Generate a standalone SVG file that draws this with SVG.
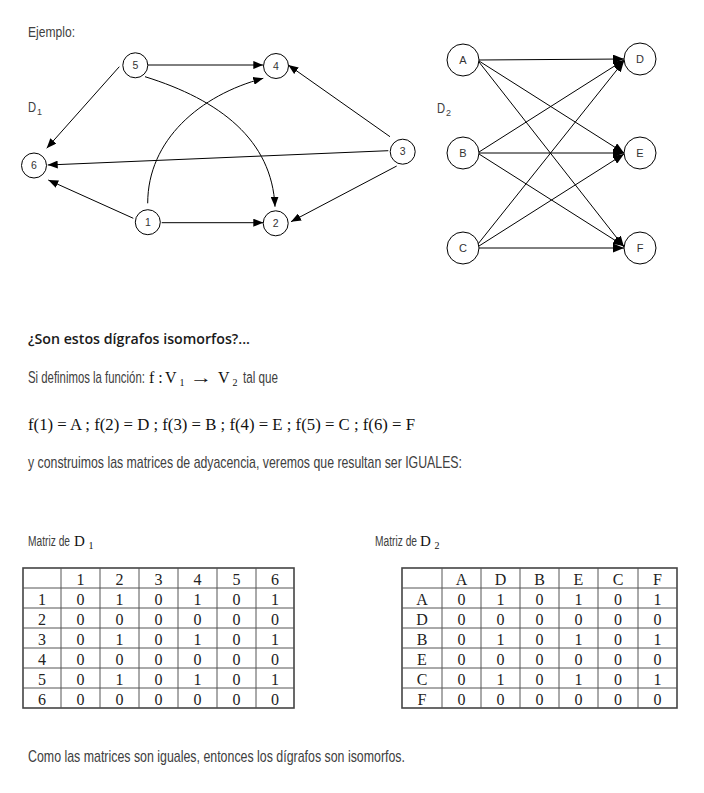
<svg xmlns="http://www.w3.org/2000/svg" width="704" height="793" viewBox="0 0 704 793">
<style>
.t{font-family:"Liberation Sans",Arial,sans-serif;font-size:17px;fill:#404040}
.s{font-family:"Liberation Serif","Times New Roman",serif;fill:#111}
.h{font-family:"Open Sans","Noto Sans",sans-serif;font-weight:600;font-size:15px;fill:#1a1a1a}
.n circle{fill:#fff;stroke:#000;stroke-width:1}
.n text{font-family:"Liberation Sans",Arial,sans-serif;fill:#333;text-anchor:middle}
.e{fill:none;stroke:#000;stroke-width:1}
.a{marker-end:url(#ar)}
.b{marker-end:url(#ar2)}
.tb text{font-family:"Liberation Serif","Times New Roman",serif;font-size:16px;fill:#222;text-anchor:middle}
.tb line{stroke:#555;stroke-width:1}
.tb rect{fill:none;stroke:#444;stroke-width:1.6}
</style>
<defs>
<marker id="ar" markerUnits="userSpaceOnUse" markerWidth="10" markerHeight="8" refX="10" refY="4" orient="auto"><path d="M0,0 L10,4 L0,8 z" fill="#000"/></marker>
<marker id="ar2" markerUnits="userSpaceOnUse" markerWidth="11" markerHeight="9" refX="11" refY="4.5" orient="auto"><path d="M0,0 L11,4.5 L0,9 z" fill="#000"/></marker>
</defs>
<rect width="704" height="793" fill="#fff"/>

<text class="t" x="28" y="37" style="font-size:14.5px" textLength="47" lengthAdjust="spacingAndGlyphs">Ejemplo:</text>
<text class="t" transform="translate(28,112) scale(0.8,1)" style="font-size:14px">D</text><text class="t" x="37" y="115" style="font-size:9px">1</text>
<text class="t" transform="translate(437,113) scale(0.8,1)" style="font-size:14px">D</text><text class="t" x="446" y="116" style="font-size:9px">2</text>

<g id="edges">
<path class="e a" d="M147.3,65 L263.3,65"/>
<path class="e a" d="M119.3,66.7 L46.7,148.3"/>
<path class="e a" d="M145,76.7 C220,100 272,140 275,206.7"/>
<path class="e a" d="M147.7,203.3 C147.7,140 200,95 263.3,78.3"/>
<path class="e a" d="M133.3,218.3 L48.3,180"/>
<path class="e a" d="M161.7,222.7 L263.3,222.7"/>
<path class="e a" d="M390,136.7 L288.3,65"/>
<path class="e a" d="M388.3,150.7 L47.7,165"/>
<path class="e a" d="M396.7,166 L291,221.7"/>

<path class="e b" d="M479,60 L624,59"/>
<path class="e b" d="M479,61 L624,153"/>
<path class="e b" d="M479,62 L624,247"/>
<path class="e b" d="M479,152 L624,60"/>
<path class="e b" d="M479,153 L624,153"/>
<path class="e b" d="M479,154 L624,246"/>
<path class="e b" d="M478,244 L624,61"/>
<path class="e b" d="M479,246 L624,154"/>
<path class="e b" d="M479,248 L624,248"/>
</g>

<g id="n5" class="n"><circle cx="135.3" cy="65.3" r="12.5"/><text x="135.3" y="69" font-size="10.5">5</text></g>
<g id="n4" class="n"><circle cx="276" cy="66" r="12.5"/><text x="276" y="69.7" font-size="10.5">4</text></g>
<g id="n6" class="n"><circle cx="34" cy="165.5" r="12.5"/><text x="34" y="169.2" font-size="10.5">6</text></g>
<g id="n3" class="n"><circle cx="402.7" cy="151.7" r="12.5"/><text x="402.7" y="155.4" font-size="10.5">3</text></g>
<g id="n1" class="n"><circle cx="147.8" cy="222.2" r="12.5"/><text x="147.8" y="225.9" font-size="10.5">1</text></g>
<g id="n2" class="n"><circle cx="275.7" cy="223.3" r="12.5"/><text x="275.7" y="227" font-size="10.5">2</text></g>

<g id="nA" class="n"><circle cx="463" cy="60" r="16"/><text x="463" y="64" font-size="11">A</text></g>
<g id="nB" class="n"><circle cx="463" cy="153" r="16"/><text x="463" y="157" font-size="11">B</text></g>
<g id="nC" class="n"><circle cx="463" cy="248" r="16"/><text x="463" y="252" font-size="11">C</text></g>
<g id="nD" class="n"><circle cx="640" cy="59" r="16"/><text x="640" y="63" font-size="11">D</text></g>
<g id="nE" class="n"><circle cx="640" cy="153" r="16"/><text x="640" y="157" font-size="11">E</text></g>
<g id="nF" class="n"><circle cx="640" cy="248" r="16"/><text x="640" y="252" font-size="11">F</text></g>

<text class="h" x="28" y="344" textLength="222" lengthAdjust="spacingAndGlyphs">¿Son estos dígrafos isomorfos?...</text>

<text class="t" transform="translate(28,383) scale(0.669,1)">Si definimos la función:</text>
<text class="s" x="149" y="383" font-size="16">f :</text>
<text class="s" x="165" y="383" font-size="16">V</text>
<text class="s" x="179.5" y="386" font-size="10">1</text>
<text class="s" transform="translate(190,383) scale(1.4,1)" font-size="16">→</text>
<text class="s" x="218" y="383" font-size="16">V</text>
<text class="s" x="232.5" y="386" font-size="10">2</text>
<text class="t" transform="translate(243,383) scale(0.686,1)">tal que</text>

<text class="s" x="28" y="430" font-size="16" textLength="387" lengthAdjust="spacingAndGlyphs">f(1) = A ; f(2) = D ; f(3) = B ; f(4) = E ; f(5) = C ; f(6) = F</text>

<text class="t" x="28" y="468" textLength="434" lengthAdjust="spacingAndGlyphs">y construimos las matrices de adyacencia, veremos que resultan ser IGUALES:</text>

<text class="t" transform="translate(28,546) scale(0.681,1)" style="font-size:15px">Matriz de</text>
<text class="s" x="74" y="546" font-size="15">D</text><text class="s" x="88.5" y="549" font-size="10">1</text>
<text class="t" transform="translate(375,546) scale(0.681,1)" style="font-size:15px">Matriz de</text>
<text class="s" x="420" y="546" font-size="15">D</text><text class="s" x="434.5" y="549" font-size="10">2</text>

<g id="table1" class="tb">
<rect x="23" y="568" width="271" height="140"/>
<line x1="61" y1="568" x2="61" y2="708"/><line x1="100" y1="568" x2="100" y2="708"/><line x1="139" y1="568" x2="139" y2="708"/><line x1="178" y1="568" x2="178" y2="708"/><line x1="217" y1="568" x2="217" y2="708"/><line x1="256" y1="568" x2="256" y2="708"/>
<line x1="23" y1="588" x2="294" y2="588"/><line x1="23" y1="608" x2="294" y2="608"/><line x1="23" y1="628" x2="294" y2="628"/><line x1="23" y1="648" x2="294" y2="648"/><line x1="23" y1="668" x2="294" y2="668"/><line x1="23" y1="688" x2="294" y2="688"/>
<text x="80.5" y="584.5">1</text><text x="119.5" y="584.5">2</text><text x="158.5" y="584.5">3</text><text x="197.5" y="584.5">4</text><text x="236.5" y="584.5">5</text><text x="275" y="584.5">6</text>
<text x="42" y="604.5">1</text><text x="80.5" y="604.5">0</text><text x="119.5" y="604.5">1</text><text x="158.5" y="604.5">0</text><text x="197.5" y="604.5">1</text><text x="236.5" y="604.5">0</text><text x="275" y="604.5">1</text>
<text x="42" y="624.5">2</text><text x="80.5" y="624.5">0</text><text x="119.5" y="624.5">0</text><text x="158.5" y="624.5">0</text><text x="197.5" y="624.5">0</text><text x="236.5" y="624.5">0</text><text x="275" y="624.5">0</text>
<text x="42" y="644.5">3</text><text x="80.5" y="644.5">0</text><text x="119.5" y="644.5">1</text><text x="158.5" y="644.5">0</text><text x="197.5" y="644.5">1</text><text x="236.5" y="644.5">0</text><text x="275" y="644.5">1</text>
<text x="42" y="664.5">4</text><text x="80.5" y="664.5">0</text><text x="119.5" y="664.5">0</text><text x="158.5" y="664.5">0</text><text x="197.5" y="664.5">0</text><text x="236.5" y="664.5">0</text><text x="275" y="664.5">0</text>
<text x="42" y="684.5">5</text><text x="80.5" y="684.5">0</text><text x="119.5" y="684.5">1</text><text x="158.5" y="684.5">0</text><text x="197.5" y="684.5">1</text><text x="236.5" y="684.5">0</text><text x="275" y="684.5">1</text>
<text x="42" y="704.5">6</text><text x="80.5" y="704.5">0</text><text x="119.5" y="704.5">0</text><text x="158.5" y="704.5">0</text><text x="197.5" y="704.5">0</text><text x="236.5" y="704.5">0</text><text x="275" y="704.5">0</text>
</g>

<g id="table2" class="tb">
<rect x="402" y="568" width="275" height="140"/>
<line x1="442" y1="568" x2="442" y2="708"/><line x1="481" y1="568" x2="481" y2="708"/><line x1="520" y1="568" x2="520" y2="708"/><line x1="559" y1="568" x2="559" y2="708"/><line x1="598" y1="568" x2="598" y2="708"/><line x1="638" y1="568" x2="638" y2="708"/>
<line x1="402" y1="588" x2="677" y2="588"/><line x1="402" y1="608" x2="677" y2="608"/><line x1="402" y1="628" x2="677" y2="628"/><line x1="402" y1="648" x2="677" y2="648"/><line x1="402" y1="668" x2="677" y2="668"/><line x1="402" y1="688" x2="677" y2="688"/>
<text x="461.5" y="584.5">A</text><text x="500.5" y="584.5">D</text><text x="539.5" y="584.5">B</text><text x="578.5" y="584.5">E</text><text x="618" y="584.5">C</text><text x="657.5" y="584.5">F</text>
<text x="422" y="604.5">A</text><text x="461.5" y="604.5">0</text><text x="500.5" y="604.5">1</text><text x="539.5" y="604.5">0</text><text x="578.5" y="604.5">1</text><text x="618" y="604.5">0</text><text x="657.5" y="604.5">1</text>
<text x="422" y="624.5">D</text><text x="461.5" y="624.5">0</text><text x="500.5" y="624.5">0</text><text x="539.5" y="624.5">0</text><text x="578.5" y="624.5">0</text><text x="618" y="624.5">0</text><text x="657.5" y="624.5">0</text>
<text x="422" y="644.5">B</text><text x="461.5" y="644.5">0</text><text x="500.5" y="644.5">1</text><text x="539.5" y="644.5">0</text><text x="578.5" y="644.5">1</text><text x="618" y="644.5">0</text><text x="657.5" y="644.5">1</text>
<text x="422" y="664.5">E</text><text x="461.5" y="664.5">0</text><text x="500.5" y="664.5">0</text><text x="539.5" y="664.5">0</text><text x="578.5" y="664.5">0</text><text x="618" y="664.5">0</text><text x="657.5" y="664.5">0</text>
<text x="422" y="684.5">C</text><text x="461.5" y="684.5">0</text><text x="500.5" y="684.5">1</text><text x="539.5" y="684.5">0</text><text x="578.5" y="684.5">1</text><text x="618" y="684.5">0</text><text x="657.5" y="684.5">1</text>
<text x="422" y="704.5">F</text><text x="461.5" y="704.5">0</text><text x="500.5" y="704.5">0</text><text x="539.5" y="704.5">0</text><text x="578.5" y="704.5">0</text><text x="618" y="704.5">0</text><text x="657.5" y="704.5">0</text>
</g>

<text class="t" x="28" y="762" textLength="377" lengthAdjust="spacingAndGlyphs">Como las matrices son iguales, entonces los dígrafos son isomorfos.</text>
</svg>
